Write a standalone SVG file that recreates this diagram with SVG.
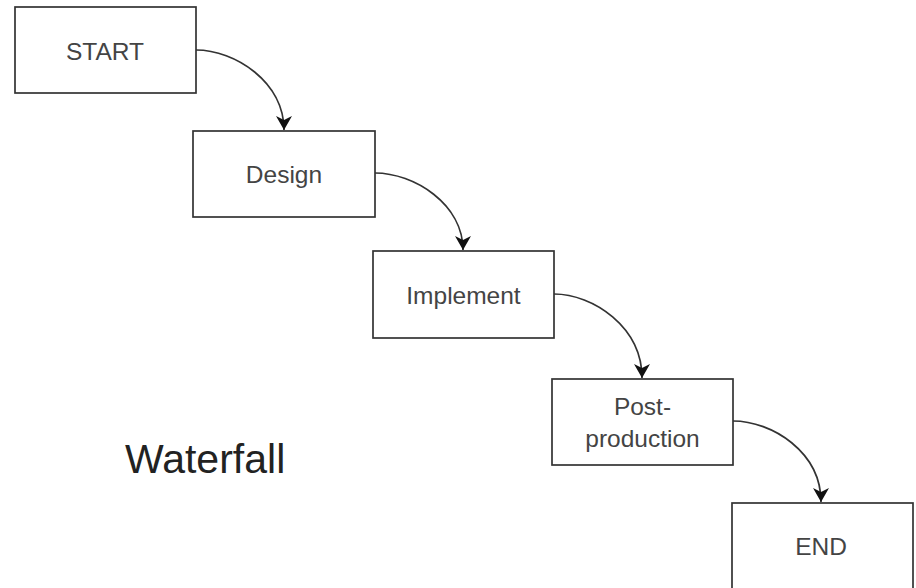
<svg xmlns="http://www.w3.org/2000/svg" width="916" height="588" viewBox="0 0 916 588">
<style>
.box{fill:#fff;stroke:#333;stroke-width:1.7}
.lbl{font-family:"Liberation Sans",Arial,sans-serif;font-size:24.5px;fill:#444;text-anchor:middle}
.con{fill:none;stroke:#333;stroke-width:1.7}
</style>
<defs>
<marker id="ah" markerUnits="userSpaceOnUse" viewBox="-14 -9 15 18" refX="0" refY="0" markerWidth="15" markerHeight="18" orient="auto">
<path d="M0,0 L-14,-8 L-10,0 L-14,8 Z" fill="#111"/>
</marker>
</defs>
<rect width="916" height="588" fill="#fff"/>
<g id="connectors">
<path class="con" d="M196,50 C235,50 284,82 284,130" marker-end="url(#ah)"/>
<path class="con" d="M375,173 C414,173 463,204 463,250" marker-end="url(#ah)"/>
<path class="con" d="M554,294 C593,294 642,327 642,378" marker-end="url(#ah)"/>
<path class="con" d="M733,421 C772,421 821,452 821,502" marker-end="url(#ah)"/>
</g>
<g id="start"><rect class="box" x="15" y="7" width="181" height="86"/><text class="lbl" x="105" y="60">START</text></g>
<g id="design"><rect class="box" x="193" y="131" width="182" height="86"/><text class="lbl" x="284" y="183">Design</text></g>
<g id="implement"><rect class="box" x="373" y="251" width="181" height="87"/><text class="lbl" x="463.5" y="304">Implement</text></g>
<g id="postproduction"><rect class="box" x="552" y="379" width="181" height="86"/><text class="lbl" x="642.5" y="415">Post-</text><text class="lbl" x="642.5" y="447">production</text></g>
<g id="end"><rect class="box" x="732" y="503" width="181" height="100"/><text class="lbl" x="821" y="555">END</text></g>
<text x="125" y="473" font-family="'Liberation Sans',Arial,sans-serif" font-size="41" fill="#222">Waterfall</text>
</svg>
